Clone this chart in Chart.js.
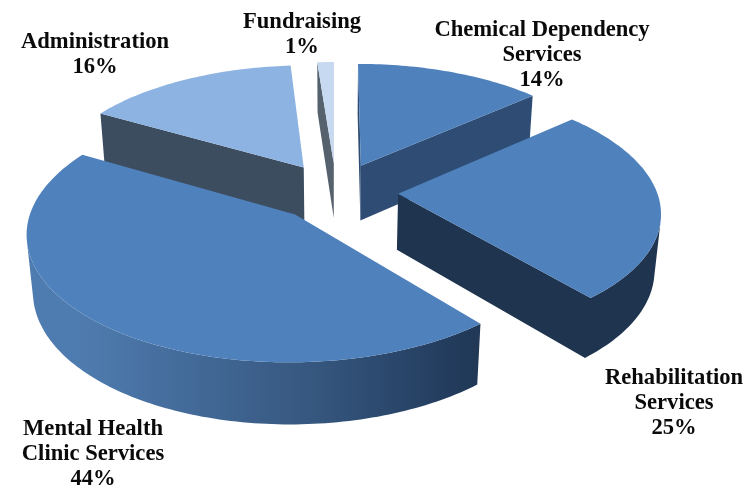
<!DOCTYPE html>
<html><head><meta charset="utf-8">
<style>html,body{margin:0;padding:0;background:#fff}#wrap{width:745px;height:485px}</style>
<script src="https://cdn.jsdelivr.net/npm/chart.js@4"></script>
</head><body><div id="wrap"><canvas id="c" width="745" height="485"></canvas></div>
<script>
const categories = ["Chemical Dependency Services","Rehabilitation Services","Mental Health Clinic Services","Administration","Fundraising"];
const shares = [13.5,25.4,44.4,15.5,1.2];
const topColors = ["#4f81bd","#4f81bd","#4f81bd","#8db3e2","#c6d9f1"];
const wallColors = ["#2f4d74","#1f344f",null,"#3d4d60","#56616e"];
const labelLines = [["Chemical Dependency","Services"],["Rehabilitation","Services"],["Mental Health","Clinic Services"],["Administration"],["Fundraising"]];
const labelAnchors = [[542,36],[674,384],[93,435],[95,48],[302,28]];
const drawOrder = [4,3,0,1,2];

// Oblique view of the pie plane
const view = {cx:336, cy:191.5, scale:1.195, tilt:0.47, depth:57, d:1950, fall:0.02};
function project(X,Y,Z){
  const x=X*view.scale, y=Y*view.scale;
  const w=1-y/view.d+Z*view.fall;
  return [view.cx+x/w, view.cy+(view.tilt*y+view.depth*Z)/w];
}
function cross(a,b,c){return (b[0]-a[0])*(c[1]-b[1])-(b[1]-a[1])*(c[0]-b[0]);}
function poly(ctx,pts,fill){
  ctx.beginPath();pts.forEach((p,i)=>i?ctx.lineTo(p[0],p[1]):ctx.moveTo(p[0],p[1]));ctx.closePath();
  ctx.fillStyle=fill;ctx.fill();
}
function wall(ctx,run,fill){
  if(run.length<2) return;
  const t=run.map(p=>project(p[0],p[1],0));
  const b=run.map(p=>project(p[0],p[1],1)).reverse();
  poly(ctx,[...t,...b],fill);
}
const tilted = {
  id:'tilted',
  beforeDatasetDraw(chart,args){
    const ctx=chart.ctx, meta=args.meta;
    drawOrder.forEach(i=>{
      const el=meta.data[i];
      const a0=el.startAngle,a1=el.endAngle,R=el.outerRadius,off=el.options.offset;
      const mid=(a0+a1)/2, ox=Math.cos(mid)*off, oy=Math.sin(mid)*off;
      const n=Math.max(2,Math.ceil((a1-a0)/0.02));
      const rim=[];
      for(let k=0;k<=n;k++){const a=a0+(a1-a0)*k/n;rim.push([ox+R*Math.cos(a),oy+R*Math.sin(a)]);}
      const ring=[[ox,oy],...rim];
      const grad=ctx.createLinearGradient(project(-R,0,0)[0],0,project(R*0.65,0,0)[0],0);
      grad.addColorStop(0,'#4f7cb0');grad.addColorStop(0.55,'#36577f');grad.addColorStop(0.85,'#243e60');grad.addColorStop(1,'#1f344f');
      const fill=wallColors[i]||grad;
      const closed=[...ring,ring[0]];
      let run=[];
      for(let k=0;k<closed.length-1;k++){
        const t0=project(closed[k][0],closed[k][1],0),t1=project(closed[k+1][0],closed[k+1][1],0);
        const b1=project(closed[k+1][0],closed[k+1][1],1);
        if(cross(t0,t1,b1)<0){
          if(!run.length) run.push(closed[k]);
          run.push(closed[k+1]);
        }else{wall(ctx,run,fill);run=[];}
      }
      wall(ctx,run,fill);
      poly(ctx,ring.map(p=>project(p[0],p[1],0)),el.options.backgroundColor);
    });
    return false;
  },
  afterDraw(chart){
    const ctx=chart.ctx;
    ctx.save();
    ctx.font='bold 22.6px "Liberation Serif"';
    ctx.fillStyle='#0a0a0a';ctx.textAlign='center';ctx.textBaseline='alphabetic';
    labelLines.forEach((lines,i)=>{
      const [x,y]=labelAnchors[i];
      [...lines,Math.round(shares[i])+'%'].forEach((t,j)=>ctx.fillText(t,x,y+j*25));
    });
    ctx.restore();
  }
};
new Chart(document.getElementById('c'),{
  type:'pie',
  data:{labels:categories,datasets:[{data:shares,backgroundColor:topColors,borderWidth:0,offset:52}]},
  options:{responsive:false,animation:false,plugins:{legend:{display:false},tooltip:{enabled:false}},events:[]},
  plugins:[tilted]
});
</script></body></html>
